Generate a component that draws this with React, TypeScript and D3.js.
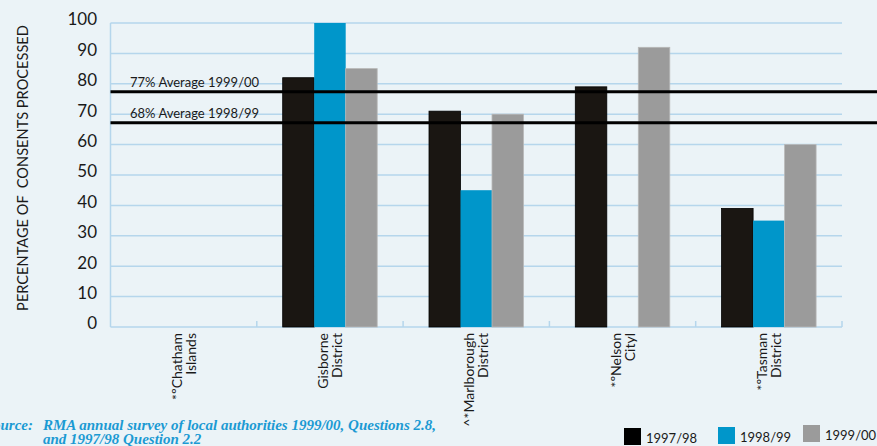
import React from "react";
import * as d3 from "d3";

const categories = ["Chatham Islands", "Gisborne District", "Marlborough District", "Nelson City", "Tasman District"];
const labelLines = [["*ºChatham", "Islands"], ["Gisborne", "District"], ["^*Marlborough", "District"], ["*ºNelson", "Cityl"], ["*ºTasman", "District"]];
const seriesNames = ["1997/98", "1998/99", "1999/00"];
const v1997 = [null, 82, 71, 79, 39];
const v1998 = [null, 100, 45, null, 35];
const v1999 = [null, 85, 70, 92, 60];
const seriesValues = [v1997, v1998, v1999];
const colors = ["#1a1612", "#0096ca", "#9b9b9b"];
const strokes = ["#000000", "none", "#b8b8b8"];
const yTicks = [0, 10, 20, 30, 40, 50, 60, 70, 80, 90, 100];
const avgLabels = ["77% Average 1999/00", "68% Average 1998/99"];
const avgValues = [77.4, 67.2];

const W = 877, H = 446;
const left = 110.5, right = 842, top = 23, bottom = 327;
const font = "Lato, 'Noto Sans', sans-serif";

export default function App() {
  const x = d3.scaleBand<string>().domain(categories).range([left, right]).padding(0);
  const inner = d3.scaleBand<string>().domain(seriesNames).range([-47.25, 47.25]).padding(0);
  const y = d3.scaleLinear().domain([0, 100]).range([bottom, top]);
  const grid = "#b5d6ec";
  return (
    <svg width={W} height={H} style={{ position: "absolute", left: 0, top: 0, display: "block" }}>
      <rect x={0} y={0} width={W} height={H} fill="#ebf3f7" />
      {yTicks.filter(t => t > 0).map(t => (
        <line key={"g" + t} x1={left} x2={right} y1={y(t)} y2={y(t)} stroke={grid} strokeWidth={1.5} />
      ))}
      <line x1={left} x2={left} y1={top} y2={bottom} stroke={grid} strokeWidth={1.5} />
      <line x1={left} x2={right} y1={bottom} y2={bottom} stroke={grid} strokeWidth={1.5} />
      {categories.map(c => (
        <line key={"t" + c} x1={(x(c) as number) + x.bandwidth()} x2={(x(c) as number) + x.bandwidth()} y1={bottom} y2={bottom - 6} stroke={grid} strokeWidth={1.5} />
      ))}
      {yTicks.map(t => (
        <text key={"yl" + t} x={97} y={y(t) - 2} textAnchor="end" dominantBaseline="middle" fontFamily={font} fontSize={17} fill="#1a1a1a">{t}</text>
      ))}
      {categories.map((c, ci) => seriesNames.map((s, si) => {
        const v = seriesValues[si][ci];
        if (v == null) return null;
        const cx = (x(c) as number) + x.bandwidth() / 2;
        return (
          <rect key={c + s} x={cx + (inner(s) as number)} y={y(v)} width={inner.bandwidth()} height={bottom - y(v)}
            fill={colors[si]} stroke={strokes[si]} strokeWidth={0.8} />
        );
      }))}
      {avgValues.map((v, i) => (
        <g key={"avg" + i}>
          <line x1={left} x2={W} y1={y(v)} y2={y(v)} stroke="#000" strokeWidth={3} />
          <text x={130} y={y(v) - 4.5} fontFamily={font} fontSize={13} fill="#1a1a1a">{avgLabels[i]}</text>
        </g>
      ))}
      {categories.map((c, ci) => {
        const cx = (x(c) as number) + x.bandwidth() / 2;
        return labelLines[ci].map((ln, li) => (
          <text key={c + li} transform={`translate(${cx - 2 + li * 14},${333}) rotate(-90)`} textAnchor="end"
            fontFamily={font} fontSize={14} fill="#1a1a1a">{ln}</text>
        ));
      })}
      <text transform={`translate(28,168) rotate(-90)`} textAnchor="middle" fontFamily={font} fontSize={14.6}
        fill="#1a1a1a" style={{ whiteSpace: "pre" }}>{"PERCENTAGE OF  CONSENTS PROCESSED"}</text>
      <g fontFamily="'Liberation Serif', 'DejaVu Serif', serif" fontStyle="italic" fontWeight="bold" fontSize={15} fill="#1b9ad3">
        <text x={33} y={430} textAnchor="end">Source:</text>
        <text x={43} y={430}>RMA annual survey of local authorities 1999/00, Questions 2.8,</text>
        <text x={43} y={444}>and 1997/98 Question 2.2</text>
      </g>
      {seriesNames.map((s, i) => {
        const lx = [624, 718, 803][i];
        const ly = [428, 427, 425][i];
        return (
          <g key={"lg" + s}>
            <rect x={lx} y={ly} width={17} height={17} fill={i === 0 ? "#000" : colors[i]} />
            <text x={lx + 22} y={ly + 15} fontFamily={font} fontSize={13} fill="#1a1a1a">{s}</text>
          </g>
        );
      })}
    </svg>
  );
}
